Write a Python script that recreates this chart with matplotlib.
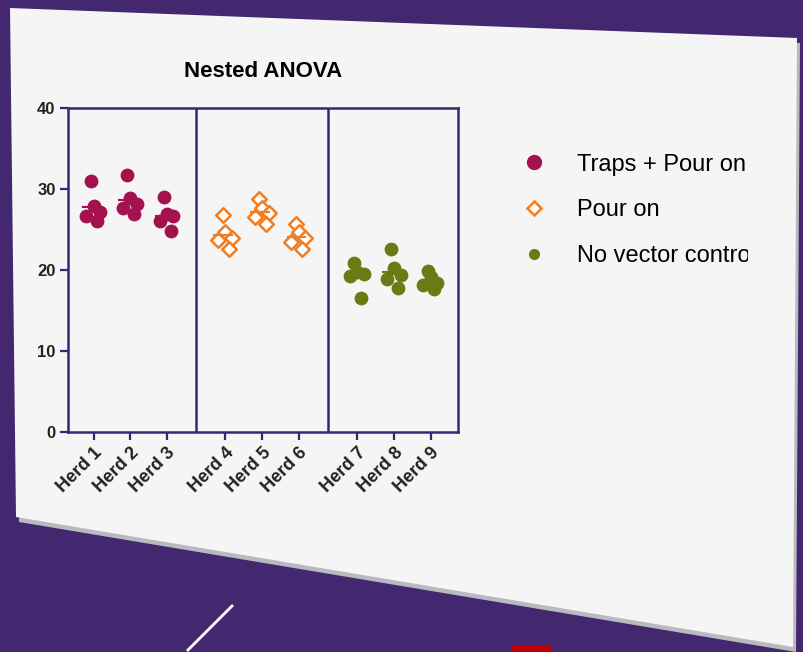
import matplotlib.pyplot as plt
from matplotlib.patches import Polygon, Rectangle
from matplotlib.lines import Line2D
from matplotlib.transforms import Bbox, TransformedBbox
import numpy as np

plt.rcParams['font.family'] = ['Liberation Sans', 'DejaVu Sans']

herds = ['Herd 1', 'Herd 2', 'Herd 3', 'Herd 4', 'Herd 5', 'Herd 6',
         'Herd 7', 'Herd 8', 'Herd 9']
groups = ['Traps + Pour on', 'Pour on', 'No vector control']
herd_group = [0, 0, 0, 1, 1, 1, 2, 2, 2]

herd1 = [31.0, 27.9, 27.1, 26.7, 26.1]
herd2 = [31.7, 28.9, 28.1, 27.6, 26.9]
herd3 = [29.0, 26.9, 26.7, 26.1, 24.8]
herd4 = [26.8, 24.7, 24.0, 23.7, 22.6]
herd5 = [28.8, 27.7, 27.0, 26.5, 25.7]
herd6 = [25.7, 24.7, 24.0, 23.5, 22.6]
herd7 = [20.9, 19.8, 19.5, 19.2, 16.6]
herd8 = [22.6, 20.2, 19.4, 18.9, 17.8]
herd9 = [19.9, 19.1, 18.4, 18.1, 17.6]
herd_values = [herd1, herd2, herd3, herd4, herd5, herd6, herd7, herd8, herd9]

yticks = [0, 10, 20, 30, 40]

# styles
purple = '#432870'
axis_col = '#2e2b73'
colors = ['#a3124f', '#f07d22', '#6c7a14']
markers = ['o', 'D', 'o']
jitter = [-0.08, 0.0, 0.18, -0.2, 0.1]

# x layout: 3 herds per group, a gap between groups
group_gap = 3.6
xpos = [g * group_gap + (i % 3) + 1 for i, g in enumerate(herd_group)]
dividers = [group_gap * 1 + 0.2, group_gap * 2 + 0.2]

W, H = 804, 652
fig = plt.figure(figsize=(W / 100, H / 100), dpi=100, facecolor=purple)


def px(x, y):
    return (x / W, 1 - y / H)


# the tilted white slide (drawn behind the axes)
corners = [(10, 8), (797, 38), (793, 647), (16, 517)]
shadow = Polygon([px(x + 3, y + 5) for x, y in corners], closed=True,
                 transform=fig.transFigure, facecolor='#b9b9c0', edgecolor='none',
                 zorder=-2)
panel = Polygon([px(x, y) for x, y in corners], closed=True,
                transform=fig.transFigure, facecolor='#f5f5f5', edgecolor='none',
                zorder=-1)
fig.add_artist(shadow)
fig.add_artist(panel)

# small decorations below the slide
fig.add_artist(Line2D([px(188, 650)[0], px(232, 606)[0]],
                      [px(188, 650)[1], px(232, 606)[1]],
                      transform=fig.transFigure, color='white', lw=2, zorder=-1))
fig.add_artist(Rectangle(px(512, 652), 40 / W, 7 / H, transform=fig.transFigure,
                         facecolor='#c00000', edgecolor='none', zorder=-1))

ax = fig.add_axes([68 / W, 1 - 432 / H, 390 / W, 324 / H])
ax.set_facecolor('none')

for i, vals in enumerate(herd_values):
    g = herd_group[i]
    xs = [xpos[i] + j for j in jitter[:len(vals)]]
    if g == 1:
        ax.scatter(xs, vals, marker=markers[g], s=55, facecolor='white',
                   edgecolor=colors[g], linewidth=1.8, zorder=3)
    else:
        ax.scatter(xs, vals, marker=markers[g], s=80, color=colors[g], zorder=3)
    m = np.mean(vals)
    ax.plot([xpos[i] - 0.3, xpos[i] + 0.18], [m, m], color=colors[g],
            lw=1.5, zorder=4)

for d in dividers:
    ax.axvline(d, color=axis_col, lw=1.8)

ax.set_xlim(0.3, xpos[-1] + 0.75)
ax.set_ylim(0, 40)
ax.set_yticks(yticks)
ax.set_yticklabels([str(t) for t in yticks], fontweight='bold', fontsize=12,
                   color='#222222')
ax.set_xticks(xpos)
ax.set_xticklabels(herds, rotation=45, ha='right', rotation_mode='anchor',
                   fontweight='bold', fontsize=13, color='#222222')
for s in ax.spines.values():
    s.set_color(axis_col)
    s.set_linewidth(1.8)
ax.tick_params(direction='out', length=6, width=1.6, color=axis_col, pad=3)

ax.set_title('Nested ANOVA', fontsize=16, fontweight='bold', pad=22)

handles = []
for g, name in enumerate(groups):
    if g == 1:
        h = Line2D([], [], ls='none', marker='D', markersize=7,
                   markerfacecolor='white', markeredgecolor=colors[g],
                   markeredgewidth=1.8, label=name)
    else:
        h = Line2D([], [], ls='none', marker='o', markersize=10 if g == 0 else 7,
                   color=colors[g], label=name)
    handles.append(h)

leg = ax.legend(handles=handles, loc='upper left', bbox_to_anchor=(0.609, 0.797),
                bbox_transform=fig.transFigure, frameon=False, fontsize=17,
                labelspacing=1.0, handletextpad=0.8)
# the last label is cut off on the slide
clip = TransformedBbox(Bbox([[0, 0], [748 / W, 1]]), fig.transFigure)
leg.get_texts()[2].set_clip_box(clip)

fig.savefig('out.png', dpi=100, facecolor=purple)
